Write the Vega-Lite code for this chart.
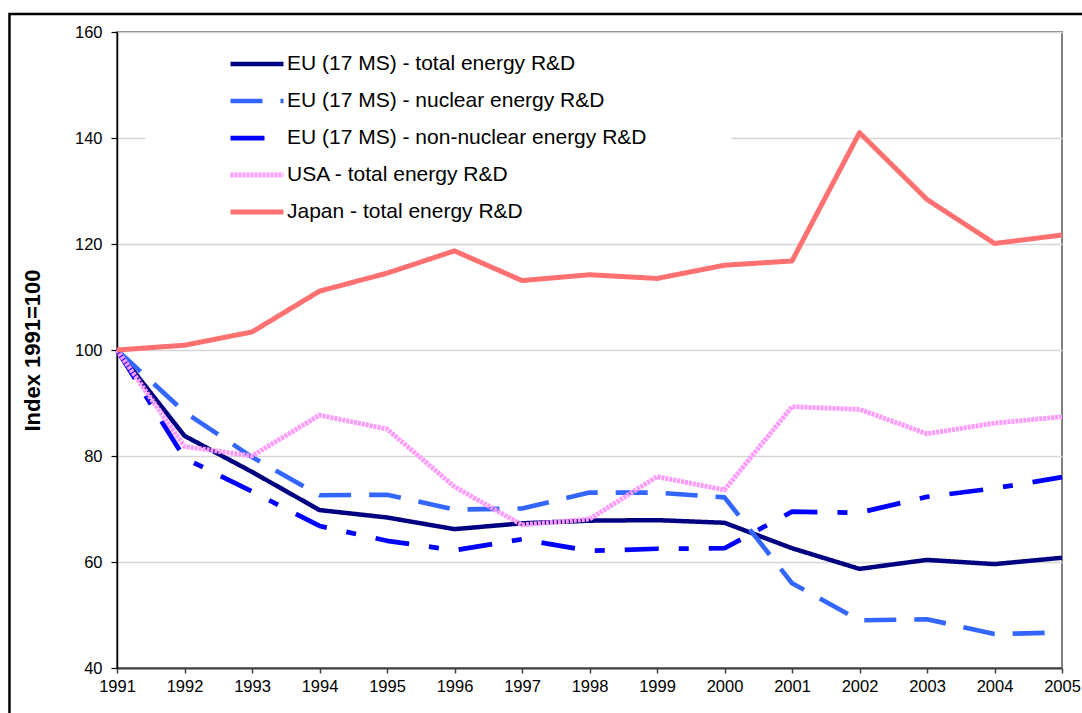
{
  "$schema": "https://vega.github.io/schema/vega-lite/v6.json",
  "width": 945,
  "height": 636,
  "autosize": {"type": "none"},
  "padding": {"left": 117, "top": 32, "right": 20, "bottom": 45},
  "background": "white",
  "config": {
    "font": "Liberation Sans",
    "view": {"stroke": "#808080", "strokeWidth": 2},
    "axis": {"labelColor": "black", "labelFont": "Liberation Sans", "titleColor": "black"}
  },
  "datasets": {
    "series": [
      {"year": 1991, "series": "EU (17 MS) - total energy R&D", "value": 100},
      {"year": 1992, "series": "EU (17 MS) - total energy R&D", "value": 83.8},
      {"year": 1993, "series": "EU (17 MS) - total energy R&D", "value": 77.0},
      {"year": 1994, "series": "EU (17 MS) - total energy R&D", "value": 69.8},
      {"year": 1995, "series": "EU (17 MS) - total energy R&D", "value": 68.4},
      {"year": 1996, "series": "EU (17 MS) - total energy R&D", "value": 66.2},
      {"year": 1997, "series": "EU (17 MS) - total energy R&D", "value": 67.3},
      {"year": 1998, "series": "EU (17 MS) - total energy R&D", "value": 67.8},
      {"year": 1999, "series": "EU (17 MS) - total energy R&D", "value": 67.9},
      {"year": 2000, "series": "EU (17 MS) - total energy R&D", "value": 67.4},
      {"year": 2001, "series": "EU (17 MS) - total energy R&D", "value": 62.6},
      {"year": 2002, "series": "EU (17 MS) - total energy R&D", "value": 58.7},
      {"year": 2003, "series": "EU (17 MS) - total energy R&D", "value": 60.4},
      {"year": 2004, "series": "EU (17 MS) - total energy R&D", "value": 59.6},
      {"year": 2005, "series": "EU (17 MS) - total energy R&D", "value": 60.8},
      {"year": 1991, "series": "EU (17 MS) - nuclear energy R&D", "value": 100},
      {"year": 1992, "series": "EU (17 MS) - nuclear energy R&D", "value": 88.3},
      {"year": 1993, "series": "EU (17 MS) - nuclear energy R&D", "value": 79.8},
      {"year": 1994, "series": "EU (17 MS) - nuclear energy R&D", "value": 72.6},
      {"year": 1995, "series": "EU (17 MS) - nuclear energy R&D", "value": 72.7},
      {"year": 1996, "series": "EU (17 MS) - nuclear energy R&D", "value": 69.9},
      {"year": 1997, "series": "EU (17 MS) - nuclear energy R&D", "value": 70.1},
      {"year": 1998, "series": "EU (17 MS) - nuclear energy R&D", "value": 73.1},
      {"year": 1999, "series": "EU (17 MS) - nuclear energy R&D", "value": 73.1},
      {"year": 2000, "series": "EU (17 MS) - nuclear energy R&D", "value": 72.2},
      {"year": 2001, "series": "EU (17 MS) - nuclear energy R&D", "value": 56.0},
      {"year": 2002, "series": "EU (17 MS) - nuclear energy R&D", "value": 49.0},
      {"year": 2003, "series": "EU (17 MS) - nuclear energy R&D", "value": 49.2},
      {"year": 2004, "series": "EU (17 MS) - nuclear energy R&D", "value": 46.4},
      {"year": 2005, "series": "EU (17 MS) - nuclear energy R&D", "value": 46.7},
      {"year": 1991, "series": "EU (17 MS) - non-nuclear energy R&D", "value": 100},
      {"year": 1992, "series": "EU (17 MS) - non-nuclear energy R&D", "value": 79.6},
      {"year": 1993, "series": "EU (17 MS) - non-nuclear energy R&D", "value": 73.3},
      {"year": 1994, "series": "EU (17 MS) - non-nuclear energy R&D", "value": 66.8},
      {"year": 1995, "series": "EU (17 MS) - non-nuclear energy R&D", "value": 64.0},
      {"year": 1996, "series": "EU (17 MS) - non-nuclear energy R&D", "value": 62.2},
      {"year": 1997, "series": "EU (17 MS) - non-nuclear energy R&D", "value": 64.3},
      {"year": 1998, "series": "EU (17 MS) - non-nuclear energy R&D", "value": 62.1},
      {"year": 1999, "series": "EU (17 MS) - non-nuclear energy R&D", "value": 62.5},
      {"year": 2000, "series": "EU (17 MS) - non-nuclear energy R&D", "value": 62.6},
      {"year": 2001, "series": "EU (17 MS) - non-nuclear energy R&D", "value": 69.5},
      {"year": 2002, "series": "EU (17 MS) - non-nuclear energy R&D", "value": 69.3},
      {"year": 2003, "series": "EU (17 MS) - non-nuclear energy R&D", "value": 72.3},
      {"year": 2004, "series": "EU (17 MS) - non-nuclear energy R&D", "value": 73.9},
      {"year": 2005, "series": "EU (17 MS) - non-nuclear energy R&D", "value": 76.0},
      {"year": 1991, "series": "USA - total energy R&D", "value": 100},
      {"year": 1992, "series": "USA - total energy R&D", "value": 81.8},
      {"year": 1993, "series": "USA - total energy R&D", "value": 80.0},
      {"year": 1994, "series": "USA - total energy R&D", "value": 87.7},
      {"year": 1995, "series": "USA - total energy R&D", "value": 85.1},
      {"year": 1996, "series": "USA - total energy R&D", "value": 74.2},
      {"year": 1997, "series": "USA - total energy R&D", "value": 67.0},
      {"year": 1998, "series": "USA - total energy R&D", "value": 68.1},
      {"year": 1999, "series": "USA - total energy R&D", "value": 76.1},
      {"year": 2000, "series": "USA - total energy R&D", "value": 73.6},
      {"year": 2001, "series": "USA - total energy R&D", "value": 89.3},
      {"year": 2002, "series": "USA - total energy R&D", "value": 88.8},
      {"year": 2003, "series": "USA - total energy R&D", "value": 84.2},
      {"year": 2004, "series": "USA - total energy R&D", "value": 86.2},
      {"year": 2005, "series": "USA - total energy R&D", "value": 87.4},
      {"year": 1991, "series": "Japan - total energy R&D", "value": 100},
      {"year": 1992, "series": "Japan - total energy R&D", "value": 100.9},
      {"year": 1993, "series": "Japan - total energy R&D", "value": 103.4},
      {"year": 1994, "series": "Japan - total energy R&D", "value": 111.1},
      {"year": 1995, "series": "Japan - total energy R&D", "value": 114.5},
      {"year": 1996, "series": "Japan - total energy R&D", "value": 118.7},
      {"year": 1997, "series": "Japan - total energy R&D", "value": 113.1},
      {"year": 1998, "series": "Japan - total energy R&D", "value": 114.2},
      {"year": 1999, "series": "Japan - total energy R&D", "value": 113.5},
      {"year": 2000, "series": "Japan - total energy R&D", "value": 116.0},
      {"year": 2001, "series": "Japan - total energy R&D", "value": 116.8},
      {"year": 2002, "series": "Japan - total energy R&D", "value": 141.0},
      {"year": 2003, "series": "Japan - total energy R&D", "value": 128.4},
      {"year": 2004, "series": "Japan - total energy R&D", "value": 120.1},
      {"year": 2005, "series": "Japan - total energy R&D", "value": 121.7}
    ]
  },
  "layer": [
    {
      "data": {"values": [{}]},
      "mark": {"type": "rect", "fill": "white", "stroke": null},
      "encoding": {
        "x": {"datum": 1991.42, "type": "quantitative"},
        "x2": {"datum": 2000.1},
        "y": {"datum": 159.6, "type": "quantitative"},
        "y2": {"datum": 122.6}
      }
    },
    {
      "data": {"name": "series"},
      "mark": {"type": "line", "strokeCap": "butt", "strokeJoin": "round"},
      "encoding": {
        "x": {
          "field": "year",
          "type": "quantitative",
          "scale": {"domain": [1991, 2005], "nice": false, "zero": false},
          "axis": {
            "title": null,
            "values": [1991, 1992, 1993, 1994, 1995, 1996, 1997, 1998, 1999, 2000, 2001, 2002, 2003, 2004, 2005],
            "format": "d",
            "grid": false,
            "domainColor": "#404040",
            "domainWidth": 2,
            "tickColor": "#404040",
            "tickWidth": 1.5,
            "tickSize": 5,
            "labelPadding": 5,
            "labelFontSize": 16.5,
            "labelFlush": false,
            "labelOverlap": false
          }
        },
        "y": {
          "field": "value",
          "type": "quantitative",
          "scale": {"domain": [40, 160], "nice": false, "zero": false},
          "axis": {
            "title": "Index 1991=100",
            "titleFontSize": 22,
            "titleFontWeight": "bold",
            "titlePadding": 30,
            "values": [40, 60, 80, 100, 120, 140, 160],
            "grid": true,
            "gridColor": "#d6d6d6",
            "gridWidth": 1.5,
            "domainColor": "black",
            "domainWidth": 1.5,
            "tickColor": "black",
            "tickWidth": 1.2,
            "tickSize": 6,
            "labelPadding": 9,
            "labelFontSize": 16.5
          }
        },
        "color": {
          "field": "series",
          "type": "nominal",
          "scale": {
            "domain": ["EU (17 MS) - total energy R&D", "EU (17 MS) - nuclear energy R&D", "EU (17 MS) - non-nuclear energy R&D", "USA - total energy R&D", "Japan - total energy R&D"],
            "range": ["#000080", "#3366FF", "#0000FF", "#FF99FF", "#FF7070"]
          },
          "legend": {
            "title": null,
            "orient": "none",
            "legendX": 101,
            "legendY": 11.5,
            "symbolType": "stroke",
            "symbolSize": 2809,
            "clipHeight": 21,
            "labelFontSize": 21,
            "labelColor": "black",
            "labelLimit": 0,
            "labelOffset": 1,
            "rowPadding": 15,
            "padding": 10,
            "fillColor": "white"
          }
        },
        "strokeDash": {
          "field": "series",
          "type": "nominal",
          "scale": {
            "domain": ["EU (17 MS) - total energy R&D", "EU (17 MS) - nuclear energy R&D", "EU (17 MS) - non-nuclear energy R&D", "USA - total energy R&D", "Japan - total energy R&D"],
            "range": [[1, 0], [32, 18], [34, 20, 10, 20], [3, 1], [1, 0]]
          },
          "legend": null
        },
        "strokeWidth": {
          "field": "series",
          "type": "nominal",
          "scale": {
            "domain": ["EU (17 MS) - total energy R&D", "EU (17 MS) - nuclear energy R&D", "EU (17 MS) - non-nuclear energy R&D", "USA - total energy R&D", "Japan - total energy R&D"],
            "range": [4.5, 5, 5, 2.5, 3]
          },
          "legend": null
        }
      }
    },
    {
      "data": {"values": [{}]},
      "mark": {"type": "rect", "fill": null, "stroke": "black", "strokeWidth": 2.5},
      "encoding": {
        "x": {"datum": 1989.407, "type": "quantitative"},
        "x2": {"datum": 2008},
        "y": {"datum": 163.4, "type": "quantitative"},
        "y2": {"datum": 20}
      }
    }
  ]
}
